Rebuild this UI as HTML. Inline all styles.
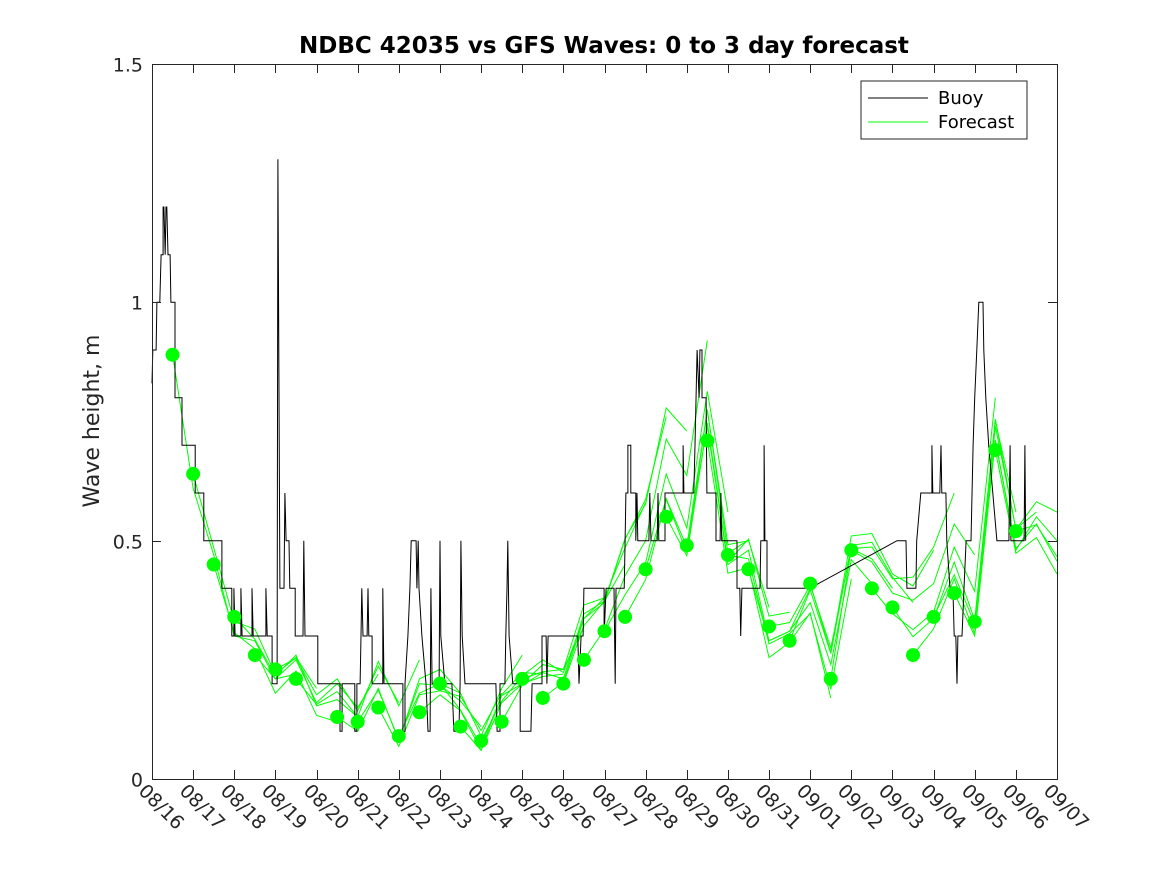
<!DOCTYPE html>
<html><head><meta charset="utf-8"><style>
html,body{margin:0;padding:0;background:#fff;}
svg{display:block;font-family:"DejaVu Sans","Liberation Sans",sans-serif;}
</style></head><body>
<svg id="chart" width="1167" height="875" viewBox="0 0 1167 875">
<rect x="0" y="0" width="1167" height="875" fill="#fff"/>
<text x="604" y="53" text-anchor="middle" font-size="23" font-weight="bold" fill="#000">NDBC 42035 vs GFS Waves: 0 to 3 day forecast</text>
<text transform="translate(99,421) rotate(-90)" text-anchor="middle" font-size="22" fill="#262626">Wave height, m</text>
<g id="fc"></g>
<g id="buoyG"></g>
<g id="dotsG"></g>
<g id="axes"></g>
<g>
<rect x="861" y="81" width="166" height="58" fill="#fff" stroke="#262626" stroke-width="1"/>
<line x1="868" y1="98" x2="928" y2="98" stroke="#000" stroke-width="1"/>
<text x="938" y="104" font-size="18" fill="#000">Buoy</text>
<line x1="868" y1="122" x2="928" y2="122" stroke="#00ff00" stroke-width="1"/>
<text x="938" y="128" font-size="18" fill="#000">Forecast</text>
</g>
</svg>
<script>
var xTickLabels=["08/16","08/17","08/18","08/19","08/20","08/21","08/22","08/23","08/24","08/25","08/26","08/27","08/28","08/29","08/30","08/31","09/01","09/02","09/03","09/04","09/05","09/06","09/07"];
var yTicks=[0,0.5,1,1.5];
var yTickLabels=["0","0.5","1","1.5"];
var buoyT=[0,0.02,0.10,0.12,0.19,0.22,0.27,0.27,0.29,0.32,0.34,0.36,0.39,0.44,0.46,0.56,0.56,0.73,0.73,1.05,1.05,1.26,1.26,1.70,1.70,1.94,1.94,1.99,1.99,2.02,2.16,2.16,2.19,2.43,2.43,2.46,2.77,2.77,2.80,2.92,2.92,3.04,3.06,3.11,3.21,3.23,3.26,3.33,3.35,3.48,3.48,3.67,3.69,3.72,4.03,4.03,4.57,4.57,4.62,4.62,4.93,4.93,4.98,4.98,5.06,5.08,5.10,5.13,5.23,5.25,5.27,5.35,5.35,5.61,5.61,5.64,6.10,6.10,6.15,6.15,6.22,6.27,6.30,6.42,6.44,6.47,6.49,6.56,6.66,6.71,6.76,6.78,6.81,6.98,7.00,7.02,7.12,7.29,7.34,7.46,7.49,7.51,7.54,7.61,8.36,8.39,8.46,8.46,8.58,8.60,8.63,8.65,8.68,8.77,8.95,8.95,9.21,9.24,9.48,9.48,9.58,9.60,9.63,10.35,10.38,10.43,10.48,10.50,10.99,10.99,11.04,11.23,11.26,11.28,11.48,11.50,11.52,11.57,11.57,11.64,11.64,11.76,11.76,11.79,11.81,12.08,12.10,12.13,12.28,12.30,12.32,12.47,12.47,12.91,12.91,12.93,13.17,13.20,13.25,13.30,13.32,13.37,13.37,13.47,13.49,13.71,13.71,13.81,13.83,13.85,14.22,14.22,14.29,14.31,14.34,14.78,14.80,14.88,14.88,14.90,14.95,14.95,15.99,18.11,18.33,18.35,18.57,18.59,18.69,18.96,18.96,18.98,19.15,19.18,19.20,19.30,19.32,19.40,19.47,19.50,19.54,19.57,19.59,19.69,19.74,19.79,19.91,19.96,20.00,20.05,20.10,20.20,20.22,20.27,20.34,20.44,20.54,20.83,20.86,20.88,21.20,21.22,21.24];
var buoyH=[0.83,0.9,0.9,1.0,1.0,1.1,1.1,1.2,1.2,1.1,1.2,1.2,1.1,1.1,1.0,1.0,0.8,0.8,0.7,0.7,0.6,0.6,0.5,0.5,0.4,0.4,0.3,0.3,0.4,0.3,0.3,0.4,0.3,0.3,0.4,0.3,0.3,0.4,0.3,0.3,0.2,0.2,1.3,0.4,0.4,0.6,0.5,0.5,0.4,0.4,0.3,0.3,0.5,0.3,0.3,0.2,0.2,0.1,0.1,0.2,0.2,0.1,0.1,0.2,0.2,0.3,0.4,0.3,0.3,0.4,0.3,0.3,0.2,0.2,0.4,0.2,0.2,0.1,0.1,0.2,0.3,0.4,0.5,0.5,0.4,0.5,0.4,0.3,0.2,0.1,0.1,0.4,0.2,0.2,0.5,0.3,0.2,0.2,0.1,0.1,0.2,0.5,0.3,0.2,0.2,0.1,0.1,0.2,0.2,0.3,0.4,0.5,0.3,0.2,0.2,0.1,0.1,0.2,0.2,0.3,0.3,0.2,0.3,0.3,0.2,0.3,0.3,0.4,0.4,0.3,0.4,0.4,0.2,0.4,0.4,0.5,0.6,0.6,0.7,0.7,0.6,0.6,0.5,0.6,0.5,0.5,0.6,0.5,0.5,0.6,0.5,0.5,0.6,0.6,0.7,0.6,0.6,0.7,0.9,0.8,0.9,0.9,0.8,0.8,0.6,0.6,0.5,0.5,0.6,0.5,0.5,0.4,0.4,0.3,0.4,0.4,0.5,0.5,0.7,0.5,0.5,0.4,0.4,0.5,0.5,0.4,0.4,0.5,0.6,0.6,0.7,0.6,0.6,0.7,0.6,0.6,0.5,0.4,0.4,0.3,0.3,0.2,0.3,0.3,0.4,0.5,0.5,0.7,0.8,0.9,1.0,1.0,0.9,0.8,0.7,0.6,0.5,0.5,0.7,0.5,0.5,0.7,0.5];
var dotT=[0.5,1,1.5,2,2.5,3,3.5,4,4.5,5,5.5,6,6.5,7,7.5,8,8.5,9,9.5,10,10.5,11,11.5,12,12.5,13,13.5,14,14.5,15,15.5,16,16.5,17,17.5,18,18.5,19,19.5,20,20.5,21];
var dotH=[0.89,0.64,0.45,0.34,0.26,0.23,0.21,null,0.13,0.12,0.15,0.09,0.14,0.20,0.11,0.08,0.12,0.21,0.17,0.20,0.25,0.31,0.34,0.44,0.55,0.49,0.71,0.47,0.44,0.32,0.29,0.41,0.21,0.48,0.40,0.36,0.26,0.34,0.39,0.33,0.69,0.52];
var fcBias=[0.0,0.03,-0.02,0.02,0.06,0.08,0.1,0.05,0.06,0.04,0.05,0.06,0.04,0.03,0.06,0.08,0.1,0.15,0.2,0.25,0.2,0.1,0.05,0.05,0.05,0.0,-0.05,-0.05,0.0,0.05,0.1,0.15,0.2,0.15,0.1,0.05,0.03,0.05,0.0,-0.05,-0.1,-0.1];
var fcWiggle=[0,0.03,-0.02,0.04,-0.03,0.02,-0.01];

var X0=152,X1=1057,Y0=779,Y1=64,D=22,YMAX=1.5;
function sx(d){return X0+(X1-X0)*d/D;}
function sy(v){return Y0-(Y0-Y1)*v/YMAX;}
var NS="http://www.w3.org/2000/svg";
function mk(tag,parent){var e=document.createElementNS(NS,tag);parent.appendChild(e);return e;}

var bg=document.getElementById('buoyG');
var pts=[];for(var i=0;i<buoyT.length;i++){pts.push(sx(buoyT[i]).toFixed(1)+","+sy(buoyH[i]).toFixed(1));}
var bl=mk('polyline',bg);
bl.setAttribute('points',pts.join(' '));bl.setAttribute('fill','none');bl.setAttribute('stroke','#000');bl.setAttribute('stroke-width','1');



function obsAt(j){
  if(j>=dotH.length) j=dotH.length-1;
  var v=dotH[j]; if(v===null){v=(dotH[j-1]+dotH[j+1])/2;} return v;}
var fg=document.getElementById('fc');
for(var i=0;i<dotT.length;i++){
  if(dotH[i]===null) continue;
  var p=[];
  for(var k=0;k<=6;k++){
    var t=dotT[i]+k*0.5; if(t>D) break;
    var v=(k==0)?dotH[i]:obsAt(i+k)+fcBias[i]*k/6+fcWiggle[k]*((i%2)?1:-1);
    p.push(sx(t).toFixed(1)+","+sy(v).toFixed(1));
  }
  var fl=mk('polyline',fg);
  fl.setAttribute('points',p.join(' '));fl.setAttribute('fill','none');fl.setAttribute('stroke','#00ff00');fl.setAttribute('stroke-width','1');
  
  
}
var dg=document.getElementById('dotsG');
for(var i=0;i<dotT.length;i++){
  if(dotH[i]===null) continue;
  var c=mk('ellipse',dg);
  c.setAttribute('cx',sx(dotT[i]));c.setAttribute('cy',sy(dotH[i]));c.setAttribute('rx',7);c.setAttribute('ry',7);c.setAttribute('fill','#00ff00');
  
  
}
var ag=document.getElementById('axes');
var box=mk('rect',ag);
box.setAttribute('x',X0+0.5);box.setAttribute('y',Y1+0.5);box.setAttribute('width',X1-X0);box.setAttribute('height',Y0-Y1);box.setAttribute('fill','none');box.setAttribute('stroke','#262626');box.setAttribute('stroke-width','1');


for(var i=0;i<xTickLabels.length;i++){
  var x=Math.round(sx(i))+0.5;
  var t1=mk('line',ag);t1.setAttribute('x1',x);t1.setAttribute('x2',x);t1.setAttribute('y1',Y0);t1.setAttribute('y2',Y0-9);t1.setAttribute('stroke','#262626');
  
  
  var t2=mk('line',ag);t2.setAttribute('x1',x);t2.setAttribute('x2',x);t2.setAttribute('y1',Y1);t2.setAttribute('y2',Y1+9);t2.setAttribute('stroke','#262626');
  
  
  var tl=mk('text',ag);
  tl.setAttribute('transform','translate('+(x-15)+','+(Y0+13)+') rotate(45)');
  tl.setAttribute('font-size','19');tl.setAttribute('fill','#262626');
  tl.textContent=xTickLabels[i];
  
  
}
for(var i=0;i<yTicks.length;i++){
  var y=Math.round(sy(yTicks[i]))+0.5;
  var a=mk('line',ag);a.setAttribute('x1',X0);a.setAttribute('x2',X0+9);a.setAttribute('y1',y);a.setAttribute('y2',y);a.setAttribute('stroke','#262626');
  
  
  var b=mk('line',ag);b.setAttribute('x1',X1-9);b.setAttribute('x2',X1);b.setAttribute('y1',y);b.setAttribute('y2',y);b.setAttribute('stroke','#262626');
  
  
  var yl=mk('text',ag);
  yl.setAttribute('x',X0-9);yl.setAttribute('y',y+7);yl.setAttribute('text-anchor','end');yl.setAttribute('font-size','19');yl.setAttribute('fill','#262626');
  yl.textContent=yTickLabels[i];
  
  
}
</script>
</body></html>
